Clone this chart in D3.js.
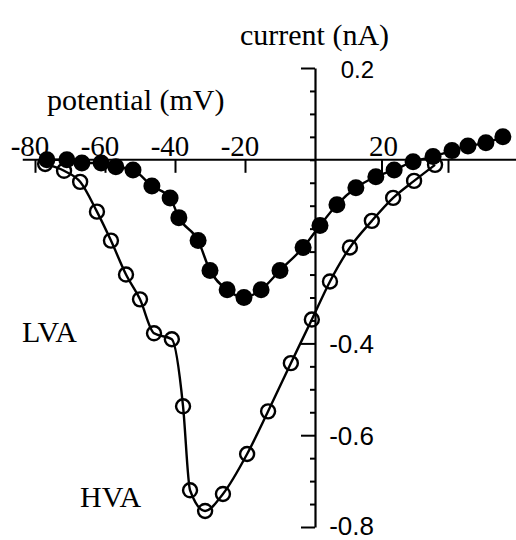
<!DOCTYPE html>
<html lang="en">

<head>
    <meta charset="utf-8">
    <title>Current - potential</title>
    <script src="https://d3js.org/d3.v7.min.js"></script>
    <style>
        body { margin: 0; background: #fff; }
    </style>
</head>

<body>
<div id="my_dataviz"></div>

<script>
    // filled circles (potential in mV, current in nA)
    var filledV = [-76.6, -70.9, -66.6, -61.1, -56.9, -52, -46.6, -41.4, -38.9, -33.4, -30, -25.1, -20.3, -15.4, -10, -3.4, 1.5, 6.6, 12.3, 18.3, 23.8, 29.5, 35.5, 41.2, 46, 51.4, 56.5]
    var filledI = [0, 0, -0.007, -0.007, -0.015, -0.022, -0.057, -0.083, -0.126, -0.176, -0.241, -0.283, -0.3, -0.283, -0.241, -0.191, -0.143, -0.098, -0.061, -0.037, -0.022, -0.004, 0.007, 0.02, 0.03, 0.037, 0.05]

    // open circles
    var openV = [-77.1, -71.7, -67.1, -62.3, -58.3, -54, -50, -46, -40.9, -37.7, -35.7, -31.4, -26.3, -19.4, -13.4, -6.9, -0.9, 4.5, 10.5, 17.1, 23.5, 29.8, 36.1]
    var openI = [-0.009, -0.024, -0.048, -0.113, -0.176, -0.25, -0.304, -0.378, -0.391, -0.537, -0.72, -0.765, -0.728, -0.641, -0.548, -0.443, -0.348, -0.265, -0.191, -0.133, -0.083, -0.046, -0.011]

    // axis ticks
    var xTicks = [-80, -60, -40, -20, 20, 40]
    var xLabels = [-80, -60, -40, -20, 20]
    var yMinor = d3.range(-16, 5).map(function (k) { return k * 0.05 })
    var yLabels = [0.2, -0.4, -0.6, -0.8]

    var width = 516, height = 540;

    var svg = d3.select("#my_dataviz")
        .append("svg")
        .attr("width", width)
        .attr("height", height)
        .style("font-family", "'Liberation Serif', 'Times New Roman', serif");

    // the figure is hand drawn, left and right halves are slightly different
    var x = d3.scaleLinear()
        .domain([-80, 0, 40])
        .range([35, 315, 448]);

    var y = d3.scaleLinear()
        .domain([-0.8, 0.2])
        .range([527, 68]);

    // X axis: line through zero, ticks hanging below
    svg.append("line")
        .attr("x1", x(-83.5)).attr("x2", width)
        .attr("y1", y(0)).attr("y2", y(0))
        .attr("stroke", "#000").attr("stroke-width", 2);

    var xAxis = svg.append("g")
        .attr("transform", "translate(0," + y(0) + ")")
        .call(d3.axisBottom(x).tickValues(xTicks).tickSize(13).tickSizeOuter(0).tickFormat(""));
    xAxis.select(".domain").remove();
    xAxis.selectAll(".tick line").attr("stroke-width", 2);

    svg.selectAll(".xlab")
        .data(xLabels)
        .enter()
        .append("text")
        .attr("class", "xlab")
        .attr("x", function (d) { return x(d) + (d < 0 ? -5 : 2) })
        .attr("y", y(0) - 4)
        .attr("text-anchor", "middle")
        .style("font-size", "29px")
        .text(function (d) { return d });

    // Y axis: ticks to the left, labels on the right
    var yAxis = svg.append("g")
        .attr("transform", "translate(" + x(0) + ",0)")
        .call(d3.axisLeft(y).tickValues(yMinor).tickSizeOuter(0).tickFormat(""));
    yAxis.select(".domain").attr("stroke-width", 2.2);
    yAxis.selectAll(".tick line")
        .attr("stroke-width", 2)
        .attr("x2", function (d) {
            return yLabels.some(function (v) { return Math.abs(v - d) < 1e-6 }) ? -14 : -5
        });

    svg.selectAll(".ylab")
        .data(yLabels)
        .enter()
        .append("text")
        .attr("class", "ylab")
        .attr("x", x(0) + 59)
        .attr("y", function (d) { return Math.min(y(d) + 10, 535) })
        .attr("text-anchor", "end")
        .style("font-family", "'Liberation Sans', Arial, sans-serif")
        .style("font-size", function (d) { return d > 0 ? "24px" : "26px" })
        .text(function (d) { return d.toFixed(1) });

    // titles
    svg.append("text").attr("x", 240).attr("y", 45).style("font-size", "30px").text("current (nA)");
    svg.append("text").attr("x", 47).attr("y", 110).style("font-size", "30px").text("potential (mV)");
    svg.append("text").attr("x", 22).attr("y", 342).style("font-size", "30px").text("LVA");
    svg.append("text").attr("x", 80).attr("y", 507).style("font-size", "30px").text("HVA");

    // curves
    var filled = filledV.map(function (v, i) { return { v: v, c: filledI[i] } });
    var open = openV.map(function (v, i) { return { v: v, c: openI[i] } });

    var line = d3.line()
        .x(function (d) { return x(d.v) })
        .y(function (d) { return y(d.c) })
        .curve(d3.curveMonotoneX);

    svg.append("path").datum(filled)
        .attr("d", line).attr("fill", "none").attr("stroke", "#000").attr("stroke-width", 2.4);
    svg.append("path").datum(open)
        .attr("d", line).attr("fill", "none").attr("stroke", "#000").attr("stroke-width", 2.4);

    svg.selectAll(".dotf")
        .data(filled)
        .enter()
        .append("circle")
        .attr("class", "dotf")
        .attr("cx", function (d) { return x(d.v) })
        .attr("cy", function (d) { return y(d.c) })
        .attr("r", 8.5)
        .attr("fill", "#000");

    svg.selectAll(".doto")
        .data(open)
        .enter()
        .append("circle")
        .attr("class", "doto")
        .attr("cx", function (d) { return x(d.v) })
        .attr("cy", function (d) { return y(d.c) })
        .attr("r", 7)
        .attr("fill", "none")
        .attr("stroke", "#000")
        .attr("stroke-width", 2.4);
</script>
</body>

</html>
